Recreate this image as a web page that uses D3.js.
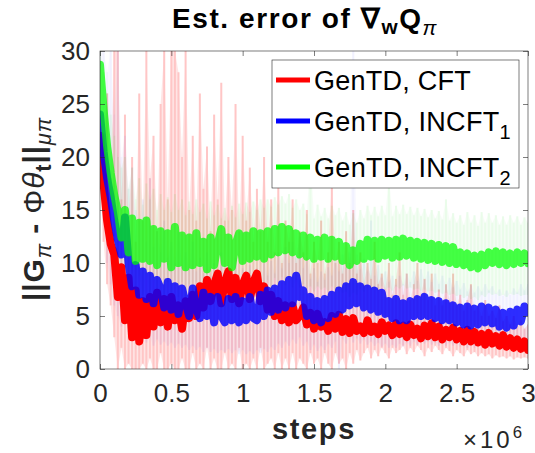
<!DOCTYPE html>
<html>
<head>
<meta charset="utf-8">
<script src="https://cdn.jsdelivr.net/npm/d3@7"></script>
<style>
  body { margin: 0; background: #fff; }
  svg text { font-family: "Liberation Sans", Arial, Helvetica, sans-serif; }
</style>
</head>
<body>
<svg id="chart" width="535" height="453"></svg>
<script>
// step grid: 0 .. 3e6, every 25000 steps
const steps = d3.range(121).map(i => i * 25000);

const xTicks = [0, 500000, 1000000, 1500000, 2000000, 2500000, 3000000];
const xTickLabels = ["0", "0.5", "1", "1.5", "2", "2.5", "3"];
const yTicks = [0, 5, 10, 15, 20, 25, 30];

// mean error curves
const cftMean = [22.0,17.5,14.0,11.8,10.8,6.8,9.6,4.6,8.6,3.0,7.4,2.6,6.4,
  3.2,6.8,4.0,7.2,4.4,6.6,4.0,6.8,4.6,6.0,3.8,6.4,
  4.8,7.0,5.0,7.8,5.8,8.4,6.4,8.0,9.0,6.2,8.2,9.2,6.6,8.6,6.2,8.0,
  8.8,6.6,8.2,9.0,6.4,7.8,5.6,7.0,5.0,6.4,4.6,6.0,4.4,6.0,4.6,5.0,
  5.8,4.2,5.3,3.8,5.2,4.0,4.4,3.6,5.0,3.8,5.1,3.5,4.7,3.4,4.8,3.6,4.0,3.4,4.6,3.5,4.0,3.3,4.4,3.6,
  4.1,3.2,4.3,3.3,4.1,3.0,4.2,3.2,3.8,2.9,4.1,3.1,4.3,3.0,4.0,2.8,3.7,3.0,3.9,2.8,
  3.6,2.6,3.7,2.6,3.5,2.5,3.3,2.3,3.4,2.4,3.1,2.2,3.2,2.1,2.9,2.0,2.8,1.9,2.6,1.8];
const incft1Mean = [24.0,20.5,18.0,16.2,14.0,12.2,10.8,14.3,10.0,7.8,9.8,7.0,9.2,
  6.6,8.8,6.2,8.4,7.6,5.8,8.2,5.6,7.8,5.2,7.6,6.2,
  5.0,7.6,5.6,4.8,7.2,5.0,6.8,4.4,6.8,5.0,4.4,6.6,4.6,6.8,4.4,6.4,
  4.6,6.8,4.8,4.6,7.0,5.0,7.4,5.4,7.6,5.6,8.0,5.8,8.4,6.2,8.8,6.8,
  7.4,5.0,6.8,4.6,6.4,4.4,6.6,4.8,7.0,5.2,7.4,5.6,7.8,6.0,8.2,6.2,7.8,5.8,7.6,5.6,7.4,5.4,7.2,5.2,
  6.4,4.8,6.6,4.6,6.2,4.6,6.4,5.0,6.6,5.0,6.8,5.0,6.5,4.8,6.4,4.6,6.2,4.6,6.0,4.4,
  5.8,4.2,5.9,4.1,5.7,4.2,5.9,4.4,5.8,4.3,5.6,4.0,5.3,3.9,5.4,4.1,5.6,4.5,5.9,5.4];
const incft2Mean = [28.7,24.5,21.0,18.5,16.4,14.8,12.4,15.0,11.0,14.2,10.2,13.8,10.4,
  14.0,10.2,13.2,9.8,13.0,10.4,12.8,9.6,13.4,10.0,12.6,9.6,
  12.4,9.8,12.8,10.0,12.0,9.4,12.4,9.8,11.8,13.2,10.0,12.4,9.6,11.8,12.8,10.2,
  12.6,10.4,13.0,10.6,12.8,10.4,13.0,10.8,13.2,11.0,13.4,11.2,13.2,11.0,12.8,10.8,
  12.6,10.6,12.4,10.4,12.2,10.6,12.4,10.4,12.2,10.6,12.0,10.2,11.6,9.8,11.2,10.2,11.8,10.4,12.2,10.6,12.1,10.4,12.2,10.7,
  12.1,10.5,12.2,10.6,12.3,10.7,12.1,10.5,12.0,10.4,11.9,10.3,11.8,10.2,11.7,10.1,11.6,10.0,11.5,9.9,
  11.0,9.8,10.9,9.6,10.7,9.5,10.8,9.8,11.0,10.0,11.1,9.9,11.0,9.8,10.9,9.9,11.0,10.0,10.9,10.0];

// spread bands (upper / lower)
const cftHi = [24,22,26,18,30,30,16,24,14,20,12,26,14,30,18,22,13,25,30,16,
  30,30,28,20,30,15,22,14,26,17,21,13,24,16,27,14,20,15,25,13,
  22,14,19,12,17,13,20,12,16,11,18,10,14,12,16,10,13,11,15,9,
  12,10,14,9,11,18,10,12,9,13,10,15,9,11,8,10,8.5,12,8,9,
  7.5,10,7,8.5,11,7,9,6.5,8,10,7,8.5,6.5,9,6,7.5,6,8,6.5,9,
  6,7,5.5,6.5,8,5.5,6,5,6.5,5,5.5,4.8,6,4.5,5,4.2,5,4,4.6,3.8,4.2];
const cftLo = [18,12,8,6,3,0,2,0,0.5,0,0,0,0.5,0,1,0,0,1.5,0,0,
  0.5,0,0,1,0,0,1.5,0,0.5,0,2,0,1,0,0,1.5,0,0.5,0,2,
  0,0.5,0,1,0,2,0,0.5,1,0,1.5,0,1,0,1.5,0,1,0.5,0,1.5,
  0.5,1,0,1.5,0.5,0,1.5,0.5,1,0,1.5,0.5,1.8,0.8,1.5,2,1,1.8,1.2,2,
  1.5,1,2,1.5,1.8,2.2,1.4,2,1.6,2.2,1.8,1.2,2,1.6,2.2,1.8,1.4,2,1.7,1.2,
  1.8,1.5,1.2,1.8,1.4,1.6,1.2,1.5,1.2,1.4,1.0,1.3,1.1,1.2,1.0,1.2,0.9,1.1,1.0,1.1,1.0];
const incft1Hi = [30,30,28,30,24,30,20,22,17,19,15,14,16,12,18,11.5,13,11,14,10.5,
  12,10,13,9.8,11,9.5,12,9.2,10.5,9,11,8.8,10,8.6,11,8.5,9.8,8.4,10.5,8.2,
  9.5,8.3,9.8,8.2,9.5,8.4,10,8.8,10.2,9,11,9.5,11.5,10,12,10.5,12.5,9.5,10.5,8.5,
  9.5,8.2,9.2,8.4,9.6,8.8,10.2,9.2,10.8,9.6,11,30,10.8,9.4,10.4,9.2,14,8.8,9.8,8.6,
  9.2,8.2,8.8,7.9,8.8,8.0,9.0,8.2,9.2,8.3,9.4,8.4,9.2,8.2,9,8,8.8,7.9,8.6,7.7,
  8.3,7.5,8.1,7.3,7.9,7.2,7.8,7.3,8.0,7.4,7.8,7.1,7.5,6.9,7.4,7.0,7.6,7.2,8,7.4,8];
const incft1Lo = [18,14,10,8,6,5,4,6,3.5,3,3.5,2.5,3.2,2.5,3,2.2,2.8,2.3,2.6,2.2,
  2.5,2.0,2.4,2,2.3,1.8,2.2,1.8,2.1,1.6,2,1.6,1.9,1.5,1.8,1.6,1.9,1.5,1.8,1.4,
  1.8,1.4,1.7,1.4,1.8,1.5,1.9,1.6,2.1,1.8,2.4,2,2.6,2.2,2.8,2.4,3,2.2,2.6,1.8,
  2.3,1.7,2.2,1.8,2.4,2,2.6,0,2.8,2.4,3,2.5,2.9,2.4,2.8,2.3,2.6,2.2,2.5,2.1,
  2.4,2,2.3,2,2.4,2.1,2.5,2.2,2.6,2.3,2.7,2.4,2.6,2.3,2.5,2.2,2.5,2.2,2.5,2.2,
  2.4,2.1,2.4,2,2.3,2.0,2.3,2.1,2.4,2.1,2.4,2.0,2.2,1.9,2.2,2.0,2.3,2.1,2.6,2.3,2.6];
const incft2Hi = [30,28,26,24,22,20,19,20,17,19,16,18,15.5,17.5,16,17,15,16.5,15,16.2,
  14.8,16.5,15,16,14.5,15.8,14.6,16,14.8,15.6,14.2,15.8,14.5,15.5,14.2,15.2,14,15.4,14.3,15.6,
  14.6,15.7,14.8,15.8,15,16,15.2,16,15.3,16.2,15.5,16.3,15.6,16.5,15.2,16,15,15.6,14.6,20,
  14.2,15.5,14.4,15.2,14.2,15.4,14.5,15.2,14,14.8,13.6,14.7,13.8,15,14.2,15.4,14.5,15.3,14.4,15.4,
  14.5,18,14.4,15.4,14.6,15.5,14.6,15.3,14.5,15.2,14.4,15.1,14.3,15,14.2,14.9,14.1,16,14,14.7,
  13.8,14.5,13.6,14.8,13.8,14.5,13.5,14.8,13.8,14.7,13.8,14.5,13.6,14.4,13.6,14.5,13.8,14.4,13.6,14.3,13.8];
const incft2Lo = [26,20,16,13,11,10,8.5,9.5,7.5,9,7,8.8,7,9,7.2,8.6,6.8,8.5,7,8.2,
  6.6,8.4,6.8,8.2,6.4,8,6.6,8.2,6.8,7.8,6.4,8,6.6,7.8,6.5,7.6,6.3,7.8,6.6,8,
  6.8,8.1,7,8.3,7.1,8.4,7.3,8.4,7.5,8.6,7.7,8.7,7.9,8.6,7.7,8.4,7.7,8,7.5,7.8,
  7.3,7.8,7.5,7.7,7.3,7.8,7.5,7.5,7.2,7.3,6.8,7.2,7,7.6,7.3,7.8,7.5,7.7,7.4,7.8,
  7.5,7.7,7.4,7.8,7.6,7.9,7.6,7.7,7.5,7.6,7.4,7.5,7.3,7.4,7.2,7.3,7.1,7.2,7,7.1,
  6.9,7.0,6.7,6.9,6.6,6.8,6.5,7,6.8,7.2,7,7.1,6.9,7,6.8,7.1,7,7.1,6.9,7,7];

const series = [
  { name: "GenTD, CFT", sub: "", color: "#ff0000", band: "#ff0000", mean: cftMean, hi: cftHi, lo: cftLo, alpha: 1, bandAlpha: 0.22 },
  { name: "GenTD, INCFT", sub: "1", color: "#0000ff", band: "#0000ff", mean: incft1Mean, hi: incft1Hi, lo: incft1Lo, alpha: 0.82, bandAlpha: 0.05 },
  { name: "GenTD, INCFT", sub: "2", color: "#00ff00", band: "#00dd00", mean: incft2Mean, hi: incft2Hi, lo: incft2Lo, alpha: 0.72, bandAlpha: 0.08 }
];

const svg = d3.select("#chart");
const plot = { left: 100, right: 528, top: 51, bottom: 369 };

const x = d3.scaleLinear().domain([0, 3000000]).range([plot.left, plot.right]);
const y = d3.scaleLinear().domain([0, 30]).range([plot.bottom, plot.top]);

svg.append("defs").append("clipPath").attr("id", "clip")
  .append("rect")
  .attr("x", plot.left).attr("y", plot.top)
  .attr("width", plot.right - plot.left).attr("height", plot.bottom - plot.top);

const g = svg.append("g").attr("clip-path", "url(#clip)");

// shaded streaks
series.forEach(s => {
  const bg = g.append("g").attr("opacity", s.bandAlpha);
  bg.append("path")
    .datum(steps)
    .attr("fill", s.band)
    .attr("opacity", 0.45)
    .attr("d", d3.area()
      .x(d => x(d))
      .y0((d, i) => y(s.lo[i]))
      .y1((d, i) => y(s.hi[i])));
  bg.selectAll("line")
    .data(steps)
    .enter()
    .append("line")
    .attr("x1", d => x(d)).attr("x2", d => x(d))
    .attr("y1", (d, i) => y(s.lo[i]))
    .attr("y2", (d, i) => y(s.hi[i]))
    .attr("stroke", s.band)
    .attr("stroke-width", 2);
});

// mean curves
const line = d3.line().x(d => x(d[0])).y(d => y(d[1]));
series.forEach(s => {
  g.append("path")
    .datum(steps.map((d, i) => [d, s.mean[i]]))
    .attr("fill", "none")
    .attr("stroke", s.color)
    .attr("stroke-width", 8)
    .attr("stroke-linejoin", "round")
    .attr("stroke-linecap", "round")
    .attr("opacity", s.alpha)
    .attr("d", line);
});

// axes box
const axisColor = "#262626";
const styleAxis = sel => {
  sel.select(".domain").remove();
  sel.selectAll(".tick line").attr("stroke", axisColor).attr("stroke-width", 0.6);
  sel.selectAll("text").attr("fill", axisColor).style("font-size", "26px");
};

svg.append("g")
  .attr("transform", `translate(0,${plot.bottom})`)
  .call(d3.axisBottom(x).tickValues(xTicks).tickFormat((d, i) => xTickLabels[i])
    .tickSizeInner(-5).tickSizeOuter(0).tickPadding(15))
  .call(styleAxis);
svg.append("g")
  .attr("transform", `translate(0,${plot.top})`)
  .call(d3.axisTop(x).tickValues(xTicks).tickFormat("").tickSizeInner(-5).tickSizeOuter(0))
  .call(styleAxis);
svg.append("g")
  .attr("transform", `translate(${plot.left},0)`)
  .call(d3.axisLeft(y).tickValues(yTicks).tickSizeInner(-5).tickSizeOuter(0).tickPadding(10))
  .call(styleAxis);
svg.append("g")
  .attr("transform", `translate(${plot.right},0)`)
  .call(d3.axisRight(y).tickValues(yTicks).tickFormat("").tickSizeInner(-5).tickSizeOuter(0))
  .call(styleAxis);

svg.append("rect")
  .attr("x", plot.left).attr("y", plot.top)
  .attr("width", plot.right - plot.left).attr("height", plot.bottom - plot.top)
  .attr("fill", "none").attr("stroke", axisColor).attr("stroke-width", 0.6);

// text with sub/superscript parts; spacing is widened to reach a target length
function richText(parent, attrs, parts, fs, target) {
  const t = parent.append("text");
  Object.entries(attrs).forEach(([k, v]) => t.attr(k, v));
  t.style("font-size", fs + "px");
  parts.forEach(p => {
    const sp = t.append("tspan").text(p.t);
    if (p.rel) sp.style("font-size", (fs * p.rel) + "px");
    if (p.dy) sp.attr("dy", p.dy * fs);
    if (p.w) sp.style("font-weight", p.w);
    if (p.it) sp.style("font-style", "italic");
  });
  if (target) {
    const len = t.node().getComputedTextLength();
    const n = parts.reduce((a, p) => a + p.t.length, 0);
    const extra = Math.max(-1, Math.min(3, (target - len) / n));
    t.style("letter-spacing", extra + "px");
  }
  return t;
}

// legend
const lg = svg.append("g");
lg.append("rect")
  .attr("x", 272).attr("y", 60).attr("width", 247).attr("height", 128)
  .attr("fill", "#fff").attr("stroke", axisColor).attr("stroke-width", 0.6);
const legendY = [80, 121, 167];
series.forEach((s, i) => {
  lg.append("line")
    .attr("x1", 276).attr("x2", 310)
    .attr("y1", legendY[i]).attr("y2", legendY[i])
    .attr("stroke", s.color).attr("stroke-width", 5);
  const parts = [{ t: s.name }];
  if (s.sub) parts.push({ t: s.sub, rel: 0.74, dy: 0.3 });
  richText(lg, { x: 314, y: legendY[i] + 10, fill: "#000" }, parts, 27, s.sub ? 197 : 157);
});

// title
richText(svg, { x: 172, y: 28, fill: "#000", "font-weight": "bold" }, [
  { t: "Est. error of \u2207" },
  { t: "w", rel: 0.74, dy: 0.2 },
  { t: "Q", dy: -0.2 },
  { t: "\u03c0", rel: 0.74, dy: 0.24, w: "normal", it: true }
], 28, 266);

// x label
richText(svg, { x: 314, y: 439, fill: axisColor, "text-anchor": "middle", "font-weight": "bold" },
  [{ t: "steps" }], 29, 84);

richText(svg, { x: 463, y: 448, fill: axisColor }, [
  { t: "\u00d710" },
  { t: "6", rel: 0.7, dy: -0.42 }
], 24, 64);

// y label
richText(svg, { transform: "translate(44,209) rotate(-90)", fill: axisColor, "text-anchor": "middle", "font-weight": "bold" }, [
  { t: "||G" },
  { t: "\u03c0", rel: 0.72, dy: 0.24, w: "normal", it: true },
  { t: " - ", dy: -0.24 },
  { t: "\u03a6", w: "normal" },
  { t: "\u03b8", w: "normal", it: true },
  { t: "t", rel: 0.72, dy: 0.24 },
  { t: "||", dy: -0.24 },
  { t: "\u03bc\u03c0", rel: 0.72, dy: 0.24, w: "normal", it: true }
], 30, 184);
</script>
</body>
</html>
